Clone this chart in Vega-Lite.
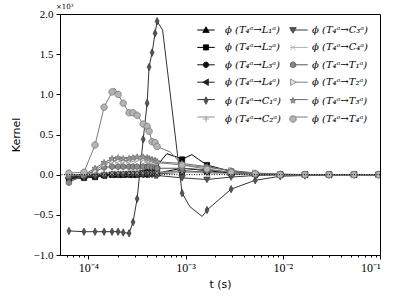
{
  "$schema": "https://vega.github.io/schema/vega-lite/v6.json",
  "width": 320,
  "height": 241,
  "autosize": {"type": "none"},
  "padding": {"left": 60, "top": 14, "right": 19, "bottom": 46},
  "background": "white",
  "title": {"text": "×10³", "anchor": "start", "frame": "group", "fontSize": 7, "font": "DejaVu Serif", "fontWeight": "normal", "offset": 0, "dx": -4, "dy": 2, "color": "#000"},
  "config": {
    "view": {"stroke": "#000", "strokeWidth": 1},
    "axis": {"domain": false, "grid": false, "tickColor": "#000", "labelColor": "#000", "titleColor": "#000", "labelFont": "Liberation Serif", "labelFontSize": 11, "titleFont": "DejaVu Sans", "titleFontSize": 11, "titleFontWeight": "normal"},
    "legend": {"symbolStrokeWidth": 1}
  },
  "datasets": {
    "grid": [
      {"t": 6.3e-5, "L1": -0.02, "L2": -0.05, "L3": -0.03, "L4": -0.04, "C1": -0.70, "C2": 0, "C3": -0.06, "C4": 0, "T1": -0.10, "T2": 0, "T3": -0.02, "T4": 0.02},
      {"t": 9.0e-5, "L1": -0.02, "L2": -0.04, "L3": -0.03, "L4": -0.03, "C1": -0.71, "C2": 0, "C3": -0.04, "C4": 0, "T1": 0, "T2": 0, "T3": 0, "T4": 0.03},
      {"t": 1.17e-4, "L1": -0.01, "L2": -0.03, "L3": -0.02, "L4": -0.02, "C1": -0.71, "C2": 0.01, "C3": -0.02, "C4": 0.01, "T1": 0.04, "T2": 0.05, "T3": 0.08, "T4": 0.37},
      {"t": 1.45e-4, "L1": 0, "L2": -0.01, "L3": -0.01, "L4": -0.01, "C1": -0.71, "C2": 0.02, "C3": -0.01, "C4": 0.01, "T1": 0.09, "T2": 0.13, "T3": 0.15, "T4": 0.84},
      {"t": 1.75e-4, "L1": 0, "L2": 0, "L3": 0, "L4": 0, "C1": -0.71, "C2": 0.03, "C3": 0, "C4": 0.02, "T1": 0.10, "T2": 0.17, "T3": 0.20, "T4": 1.03},
      {"t": 2.02e-4, "L1": 0, "L2": 0, "L3": 0, "L4": 0, "C1": -0.71, "C2": 0.03, "C3": 0, "C4": 0.02, "T1": 0.10, "T2": 0.18, "T3": 0.21, "T4": 1.00},
      {"t": 2.28e-4, "L1": 0, "L2": 0, "L3": 0, "L4": 0, "C1": -0.72, "C2": 0.03, "C3": 0, "C4": 0.02, "T1": 0.10, "T2": 0.17, "T3": 0.20, "T4": 0.89},
      {"t": 2.62e-4, "L1": 0, "L2": 0.01, "L3": 0, "L4": 0, "C1": -0.73, "C2": 0.03, "C3": 0, "C4": 0.02, "T1": 0.10, "T2": 0.18, "T3": 0.20, "T4": 0.77},
      {"t": 2.88e-4, "L1": 0, "L2": 0.01, "L3": 0, "L4": 0, "C1": -0.59, "C2": 0.03, "C3": 0, "C4": 0.02, "T1": 0.10, "T2": 0.19, "T3": 0.21, "T4": 0.77},
      {"t": 3.17e-4, "L1": 0, "L2": 0.01, "L3": 0, "L4": 0.01, "C1": -0.30, "C2": 0.03, "C3": 0, "C4": 0.02, "T1": 0.10, "T2": 0.19, "T3": 0.22, "T4": 0.74},
      {"t": 3.66e-4, "L1": 0.01, "L2": 0.02, "L3": 0, "L4": 0.01, "C1": 0.44, "C2": 0.03, "C3": 0, "C4": 0.02, "T1": 0.10, "T2": 0.20, "T3": 0.22, "T4": 0.63},
      {"t": 4.02e-4, "L1": 0.01, "L2": 0.03, "L3": 0, "L4": 0.01, "C1": 0.89, "C2": 0.03, "C3": 0, "C4": 0.02, "T1": 0.10, "T2": 0.19, "T3": 0.21, "T4": 0.60},
      {"t": 4.21e-4, "L1": 0.01, "L2": 0.03, "L3": 0.01, "L4": 0.01, "C1": 1.34, "C2": 0.03, "C3": 0, "C4": 0.02, "T1": 0.10, "T2": 0.18, "T3": 0.20, "T4": 0.54},
      {"t": 4.52e-4, "L1": 0.02, "L2": 0.04, "L3": 0.01, "L4": 0.02, "C1": 1.52, "C2": 0.03, "C3": 0, "C4": 0.02, "T1": 0.09, "T2": 0.17, "T3": 0.19, "T4": 0.41},
      {"t": 4.85e-4, "L1": 0.02, "L2": 0.05, "L3": 0.01, "L4": 0.02, "C1": 1.76, "C2": 0.03, "C3": -0.01, "C4": 0.02, "T1": 0.09, "T2": 0.16, "T3": 0.18, "T4": 0.40},
      {"t": 5.09e-4, "L1": 0.02, "L2": 0.07, "L3": 0.01, "L4": 0.02, "C1": 1.91, "C2": 0.03, "C3": -0.01, "C4": 0.02, "T1": 0.08, "T2": 0.15, "T3": 0.16, "T4": 0.35},
      {"t": 9.2e-4, "L1": 0.08, "L2": 0.19, "L3": 0.03, "L4": 0.05, "C1": -0.23, "C2": 0.04, "C3": -0.04, "C4": 0.03, "T1": 0.08, "T2": 0.12, "T3": 0.14, "T4": 0.12},
      {"t": 1.66e-3, "L1": 0.05, "L2": 0.12, "L3": 0.03, "L4": 0.03, "C1": -0.44, "C2": 0.03, "C3": -0.06, "C4": 0.02, "T1": 0.06, "T2": 0.09, "T3": 0.10, "T4": 0.07},
      {"t": 2.94e-3, "L1": 0.02, "L2": 0.04, "L3": 0.01, "L4": 0.01, "C1": -0.18, "C2": 0.01, "C3": -0.03, "C4": 0.01, "T1": 0.03, "T2": 0.05, "T3": 0.05, "T4": 0.03},
      {"t": 5.2e-3, "L1": 0.01, "L2": 0.01, "L3": 0, "L4": 0, "C1": -0.07, "C2": 0, "C3": -0.01, "C4": 0, "T1": 0.01, "T2": 0.02, "T3": 0.02, "T4": 0.01},
      {"t": 9.4e-3, "L1": 0, "L2": 0, "L3": 0, "L4": 0, "C1": -0.02, "C2": 0, "C3": 0, "C4": 0, "T1": 0, "T2": 0, "T3": 0.01, "T4": 0},
      {"t": 1.69e-2, "L1": 0, "L2": 0, "L3": 0, "L4": 0, "C1": -0.01, "C2": 0, "C3": 0, "C4": 0, "T1": 0, "T2": 0, "T3": 0, "T4": 0},
      {"t": 2.99e-2, "L1": 0, "L2": 0, "L3": 0, "L4": 0, "C1": 0, "C2": 0, "C3": 0, "C4": 0, "T1": 0, "T2": 0, "T3": 0, "T4": 0},
      {"t": 5.4e-2, "L1": 0, "L2": 0, "L3": 0, "L4": 0, "C1": 0, "C2": 0, "C3": 0, "C4": 0, "T1": 0, "T2": 0, "T3": 0, "T4": 0},
      {"t": 9.7e-2, "L1": 0, "L2": 0, "L3": 0, "L4": 0, "C1": 0, "C2": 0, "C3": 0, "C4": 0, "T1": 0, "T2": 0, "T3": 0, "T4": 0}
    ],
    "curve": [
      {"t": 6.3e-5, "L1": -0.02, "L2": -0.05, "L3": -0.03, "L4": -0.04, "C1": -0.70, "C2": 0, "C3": -0.06, "C4": 0, "T1": -0.10, "T2": 0, "T3": -0.02, "T4": 0.02},
      {"t": 9.0e-5, "L1": -0.02, "L2": -0.04, "L3": -0.03, "L4": -0.03, "C1": -0.71, "C2": 0, "C3": -0.04, "C4": 0, "T1": 0, "T2": 0, "T3": 0, "T4": 0.03},
      {"t": 1.17e-4, "L1": -0.01, "L2": -0.03, "L3": -0.02, "L4": -0.02, "C1": -0.71, "C2": 0.01, "C3": -0.02, "C4": 0.01, "T1": 0.04, "T2": 0.05, "T3": 0.08, "T4": 0.37},
      {"t": 1.45e-4, "L1": 0, "L2": -0.01, "L3": -0.01, "L4": -0.01, "C1": -0.71, "C2": 0.02, "C3": -0.01, "C4": 0.01, "T1": 0.09, "T2": 0.13, "T3": 0.15, "T4": 0.84},
      {"t": 1.75e-4, "L1": 0, "L2": 0, "L3": 0, "L4": 0, "C1": -0.71, "C2": 0.03, "C3": 0, "C4": 0.02, "T1": 0.10, "T2": 0.17, "T3": 0.20, "T4": 1.03},
      {"t": 1.85e-4, "T4": 1.08},
      {"t": 2.02e-4, "L1": 0, "L2": 0, "L3": 0, "L4": 0, "C1": -0.71, "C2": 0.03, "C3": 0, "C4": 0.02, "T1": 0.10, "T2": 0.18, "T3": 0.21, "T4": 1.00},
      {"t": 2.28e-4, "L1": 0, "L2": 0, "L3": 0, "L4": 0, "C1": -0.72, "C2": 0.03, "C3": 0, "C4": 0.02, "T1": 0.10, "T2": 0.17, "T3": 0.20, "T4": 0.89},
      {"t": 2.62e-4, "L1": 0, "L2": 0.01, "L3": 0, "L4": 0, "C1": -0.73, "C2": 0.03, "C3": 0, "C4": 0.02, "T1": 0.10, "T2": 0.18, "T3": 0.20, "T4": 0.77},
      {"t": 2.88e-4, "L1": 0, "L2": 0.01, "L3": 0, "L4": 0, "C1": -0.59, "C2": 0.03, "C3": 0, "C4": 0.02, "T1": 0.10, "T2": 0.19, "T3": 0.21, "T4": 0.77},
      {"t": 3.17e-4, "L1": 0, "L2": 0.01, "L3": 0, "L4": 0.01, "C1": -0.30, "C2": 0.03, "C3": 0, "C4": 0.02, "T1": 0.10, "T2": 0.19, "T3": 0.22, "T4": 0.74},
      {"t": 3.66e-4, "L1": 0.01, "L2": 0.02, "L3": 0, "L4": 0.01, "C1": 0.44, "C2": 0.03, "C3": 0, "C4": 0.02, "T1": 0.10, "T2": 0.20, "T3": 0.22, "T4": 0.63},
      {"t": 4.02e-4, "L1": 0.01, "L2": 0.03, "L3": 0, "L4": 0.01, "C1": 0.89, "C2": 0.03, "C3": 0, "C4": 0.02, "T1": 0.10, "T2": 0.19, "T3": 0.21, "T4": 0.60},
      {"t": 4.21e-4, "L1": 0.01, "L2": 0.03, "L3": 0.01, "L4": 0.01, "C1": 1.34, "C2": 0.03, "C3": 0, "C4": 0.02, "T1": 0.10, "T2": 0.18, "T3": 0.20, "T4": 0.54},
      {"t": 4.52e-4, "L1": 0.02, "L2": 0.04, "L3": 0.01, "L4": 0.02, "C1": 1.52, "C2": 0.03, "C3": 0, "C4": 0.02, "T1": 0.09, "T2": 0.17, "T3": 0.19, "T4": 0.41},
      {"t": 4.85e-4, "L1": 0.02, "L2": 0.05, "L3": 0.01, "L4": 0.02, "C1": 1.76, "C2": 0.03, "C3": -0.01, "C4": 0.02, "T1": 0.09, "T2": 0.16, "T3": 0.18, "T4": 0.40},
      {"t": 5.09e-4, "L1": 0.02, "L2": 0.07, "L3": 0.01, "L4": 0.02, "C1": 1.91, "C2": 0.03, "C3": -0.01, "C4": 0.02, "T1": 0.08, "T2": 0.15, "T3": 0.16, "T4": 0.35},
      {"t": 5.3e-4, "L2": 0.14},
      {"t": 5.8e-4, "C1": 1.80},
      {"t": 6.4e-4, "L2": 0.26},
      {"t": 7.0e-4, "T4": 0.28},
      {"t": 8.1e-4, "L2": 0.22},
      {"t": 9.2e-4, "L1": 0.08, "L2": 0.19, "L3": 0.03, "L4": 0.05, "C1": -0.23, "C2": 0.04, "C3": -0.04, "C4": 0.03, "T1": 0.08, "T2": 0.12, "T3": 0.14, "T4": 0.12},
      {"t": 1.11e-3, "C1": -0.40},
      {"t": 1.16e-3, "L2": 0.25},
      {"t": 1.36e-3, "L2": 0.19},
      {"t": 1.48e-3, "C1": -0.52},
      {"t": 1.66e-3, "L1": 0.05, "L2": 0.12, "L3": 0.03, "L4": 0.03, "C1": -0.44, "C2": 0.03, "C3": -0.06, "C4": 0.02, "T1": 0.06, "T2": 0.09, "T3": 0.10, "T4": 0.07},
      {"t": 2.94e-3, "L1": 0.02, "L2": 0.04, "L3": 0.01, "L4": 0.01, "C1": -0.18, "C2": 0.01, "C3": -0.03, "C4": 0.01, "T1": 0.03, "T2": 0.05, "T3": 0.05, "T4": 0.03},
      {"t": 5.2e-3, "L1": 0.01, "L2": 0.01, "L3": 0, "L4": 0, "C1": -0.07, "C2": 0, "C3": -0.01, "C4": 0, "T1": 0.01, "T2": 0.02, "T3": 0.02, "T4": 0.01},
      {"t": 9.4e-3, "L1": 0, "L2": 0, "L3": 0, "L4": 0, "C1": -0.02, "C2": 0, "C3": 0, "C4": 0, "T1": 0, "T2": 0, "T3": 0.01, "T4": 0},
      {"t": 1.69e-2, "L1": 0, "L2": 0, "L3": 0, "L4": 0, "C1": -0.01, "C2": 0, "C3": 0, "C4": 0, "T1": 0, "T2": 0, "T3": 0, "T4": 0},
      {"t": 2.99e-2, "L1": 0, "L2": 0, "L3": 0, "L4": 0, "C1": 0, "C2": 0, "C3": 0, "C4": 0, "T1": 0, "T2": 0, "T3": 0, "T4": 0},
      {"t": 5.4e-2, "L1": 0, "L2": 0, "L3": 0, "L4": 0, "C1": 0, "C2": 0, "C3": 0, "C4": 0, "T1": 0, "T2": 0, "T3": 0, "T4": 0},
      {"t": 9.7e-2, "L1": 0, "L2": 0, "L3": 0, "L4": 0, "C1": 0, "C2": 0, "C3": 0, "C4": 0, "T1": 0, "T2": 0, "T3": 0, "T4": 0}
    ],
    "zero": [{"k": 0}]
  },
  "resolve": {"axis": {"x": "independent"}, "legend": {"color": "independent", "shape": "independent", "fill": "independent", "stroke": "independent"}},
  "layer": [
    {
      "data": {"name": "curve"},
      "transform": [
        {"fold": ["L1","L2","L3","L4","C1","C2","C3","C4","T1","T2","T3","T4"], "as": ["line", "k"]},
        {"filter": "isValid(datum.k) && isNumber(datum.k)"}
      ],
      "mark": {"type": "line", "strokeWidth": 1, "clip": true, "invalid": "filter"},
      "encoding": {
        "x": {"field": "t", "type": "quantitative", "scale": {"type": "log", "domain": [5.1e-5, 0.1], "nice": false},
          "axis": {"orient": "bottom", "title": "t (s)", "values": [0.0001, 0.001, 0.01, 0.1], "tickSize": 4, "labelPadding": 3, "titlePadding": 5, "labelFontSize": 12,
            "labelExpr": "datum.value < 0.0005 ? '10⁻⁴' : datum.value < 0.005 ? '10⁻³' : datum.value < 0.05 ? '10⁻²' : '10⁻¹'"}},
        "y": {"field": "k", "type": "quantitative", "scale": {"domain": [-1, 2], "nice": false},
          "axis": {"title": "Kernel", "values": [-1, -0.5, 0, 0.5, 1, 1.5, 2], "format": ".1f", "tickSize": 4, "labelPadding": 3, "titlePadding": 12}},
        "color": {"field": "line", "type": "nominal",
          "scale": {"domain": ["L1","L2","L3","L4","C1","C2","C3","C4","T1","T2","T3","T4"],
                    "range": ["#000000","#000000","#111111","#222222","#333333","#909090","#3a3a3a","#b0b0b0","#555555","#808080","#6a6a6a","#7a7a7a"]},
          "legend": {"title": null, "orient": "none", "legendX": 141, "legendY": 11, "columns": 2, "padding": 0, "zindex": 1,
            "rowPadding": 7.4, "columnPadding": 6, "labelOffset": 14, "symbolSize": 42, "symbolStrokeWidth": 1, "symbolType": "M-2.7,0L2.7,0",
            "labelFont": "DejaVu Serif", "labelFontStyle": "italic", "labelFontSize": 10, "labelColor": "#000", "labelOpacity": 0, "labelLimit": 200,
            "labelExpr": "'ϕ (T₄ᵃ→' + substring(datum.value,0,1) + ['','₁','₂','₃','₄'][toNumber(substring(datum.value,1,2))] + 'ᵃ)'"}
        },
        "order": {"field": "t", "type": "quantitative"}
      }
    },
    {
      "data": {"name": "grid"},
      "transform": [{"fold": ["L1","L2","L3","L4","C1","C2","C3","C4","T1","T2","T3","T4"], "as": ["series", "k"]}],
      "mark": {"type": "point", "size": 42, "strokeWidth": 0.7, "opacity": 1, "clip": true},
      "encoding": {
        "x": {"field": "t", "type": "quantitative",
          "axis": {"orient": "bottom", "title": null, "labels": false, "tickSize": 2,
            "values": [0.00006,0.00007,0.00008,0.00009,0.0002,0.0003,0.0004,0.0005,0.0006,0.0007,0.0008,0.0009,0.002,0.003,0.004,0.005,0.006,0.007,0.008,0.009,0.02,0.03,0.04,0.05,0.06,0.07,0.08,0.09]}},
        "y": {"field": "k", "type": "quantitative",
          "axis": {"title": "Kernel", "values": [-1, -0.5, 0, 0.5, 1, 1.5, 2], "format": ".1f", "tickSize": 4, "labelPadding": 3, "titlePadding": 12}},
        "stroke": {"field": "series", "type": "nominal",
          "scale": {"domain": ["L1","L2","L3","L4","C1","C2","C3","C4","T1","T2","T3","T4"],
                    "range": ["#000000","#000000","#111111","#222222","#333333","#909090","#3a3a3a","#b0b0b0","#555555","#808080","#6a6a6a","#6e6e6e"]}},
        "fill": {"field": "series", "type": "nominal",
          "scale": {"domain": ["L1","L2","L3","L4","C1","C2","C3","C4","T1","T2","T3","T4"],
                    "range": ["#000000","#000000","#111111","#222222","#555555","#909090","#555555","#b0b0b0","#888888","#e4e4e4","#9a9a9a","#b4b4b4"]}},
        "shape": {"field": "series", "type": "nominal",
          "scale": {"domain": ["L1","L2","L3","L4","C1","C2","C3","C4","T1","T2","T3","T4"],
                    "range": [
                      "M0,-1L1,0.75L-1,0.75Z",
                      "M-0.8,-0.8L0.8,-0.8L0.8,0.8L-0.8,0.8Z",
                      "M-0.85,0A0.85,0.85,0,1,0,0.85,0A0.85,0.85,0,1,0,-0.85,0Z",
                      "M-1,0L0.75,-1L0.75,1Z",
                      "M0,-1.15L0.6,0L0,1.15L-0.6,0Z",
                      "M-1,0L1,0M0,-1L0,1",
                      "M0,1L1,-0.75L-1,-0.75Z",
                      "M-0.75,-0.75L0.75,0.75M-0.75,0.75L0.75,-0.75",
                      "M0,-0.95L0.82,-0.47L0.82,0.47L0,0.95L-0.82,0.47L-0.82,-0.47Z",
                      "M1,0L-0.75,-1L-0.75,1Z",
                      "M0,-1L0.235,-0.324L0.951,-0.309L0.38,0.124L0.588,0.809L0,0.4L-0.588,0.809L-0.38,0.124L-0.951,-0.309L-0.235,-0.324Z",
                      "M-1,0A1,1,0,1,0,1,0A1,1,0,1,0,-1,0Z"
                    ]},
          "legend": {"title": null, "orient": "none", "legendX": 141, "legendY": 11, "columns": 2, "padding": 0, "zindex": 2,
            "rowPadding": 7.4, "columnPadding": 6, "labelOffset": 14, "symbolSize": 42, "symbolStrokeWidth": 0.8,
            "labelFont": "DejaVu Serif", "labelFontStyle": "italic", "labelFontSize": 10, "labelColor": "#000", "labelOpacity": 1, "labelLimit": 200,
            "labelExpr": "'ϕ (T₄ᵃ→' + substring(datum.value,0,1) + ['','₁','₂','₃','₄'][toNumber(substring(datum.value,1,2))] + 'ᵃ)'"}
        }
      }
    },
    {
      "data": {"name": "zero"},
      "mark": {"type": "rule", "color": "#000", "strokeWidth": 1, "strokeDash": [1, 1.5]},
      "encoding": {"y": {"field": "k", "type": "quantitative"}}
    }
  ]
}
